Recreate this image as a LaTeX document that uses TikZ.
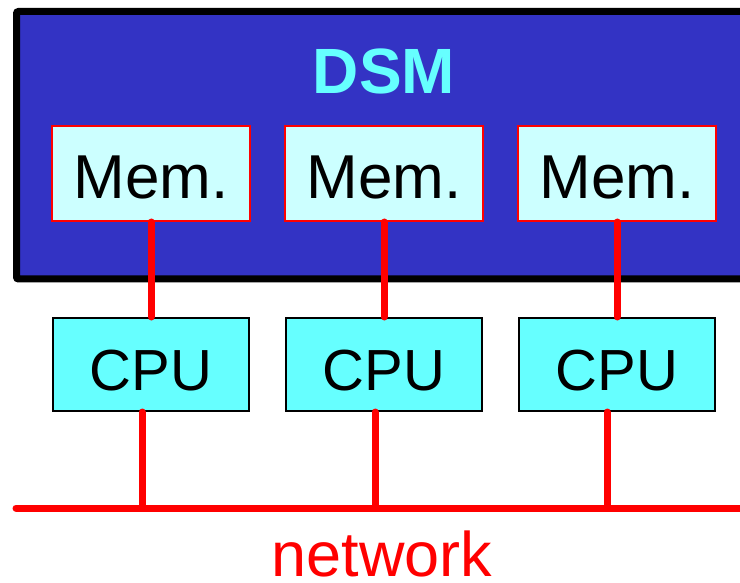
\documentclass[tikz,border=0pt]{standalone}
\usepackage{fontspec}
\setmainfont{Liberation Sans}
\definecolor{dsmblue}{RGB}{51,51,196}
\definecolor{memcyan}{RGB}{204,255,255}
\definecolor{cpucyan}{RGB}{102,255,255}
\tikzset{
  membox/.style={draw=red, line width=2, fill=memcyan, minimum width=198, minimum height=95, inner sep=0, text height=51, text depth=0},
  cpubox/.style={draw=black, line width=2, fill=cpucyan, minimum width=196, minimum height=93, inner sep=0, text height=51, text depth=0},
  wire/.style={red, line width=7, line cap=round},
}
\begin{document}
\begin{tikzpicture}[x=1pt, y=-1pt, font=\fontsize{62}{70}\selectfont]
    \clip (0, 0) rectangle (740, 583);
    \draw[line width=7, rounded corners=2, fill=dsmblue] (16.5, 11.5) rectangle (780, 279);
    \node[anchor=base, text=cpucyan, font=\fontsize{64}{70}\selectfont\bfseries] (DSM) at (384, 94) {DSM};

    \node[membox] (M1) at (151, 173.5) {Mem.};
    \node[membox] (M2) at (384, 173.5) {Mem.};
    \node[membox] (M3) at (617, 173.5) {Mem.};

    \node[cpubox] (C1) at (151, 364.5) {\fontsize{58}{70}\selectfont CPU};
    \node[cpubox] (C2) at (384, 364.5) {\fontsize{58}{70}\selectfont CPU};
    \node[cpubox] (C3) at (617, 364.5) {\fontsize{58}{70}\selectfont CPU};

    \coordinate (NL) at (16, 508);
    \coordinate (NR) at (760, 508);
    \coordinate (T1) at (142, 508);
    \coordinate (T2) at (375, 508);
    \coordinate (T3) at (607, 508);

    \draw[wire] (NL) -- (NR);
    \draw[wire] (M1.south) -- (C1.north);
    \draw[wire] (M2.south) -- (C2.north);
    \draw[wire] (M3.south) -- (C3.north);
    \draw[wire] (C1.south -| T1) -- (T1);
    \draw[wire] (C2.south -| T2) -- (T2);
    \draw[wire] (C3.south -| T3) -- (T3);

    \node[anchor=base, text=red, font=\fontsize{63}{70}\selectfont] (NET) at (382, 576) {network};
\end{tikzpicture}
\end{document}
